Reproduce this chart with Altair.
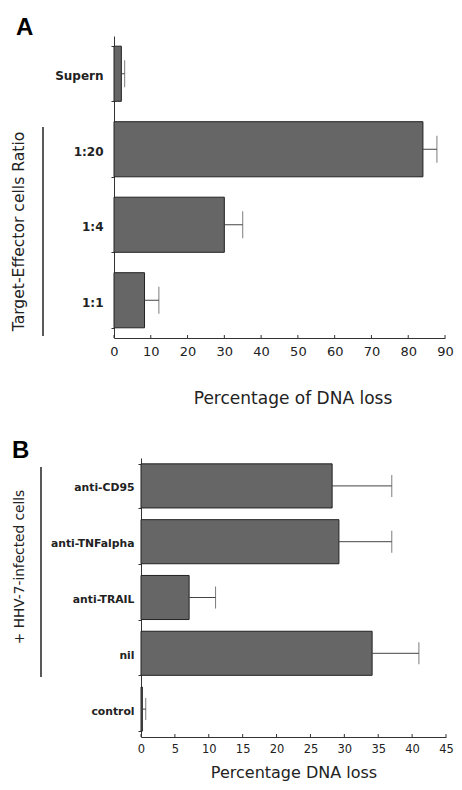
import altair as alt
import pandas as pd

# ---- data ----
cats_a = ["Supern", "1:20", "1:4", "1:1"]
vals_a = [2.0, 84.0, 30.0, 8.3]
hi_a = [2.9, 87.8, 35.0, 12.2]
ticks_a = [0, 10, 20, 30, 40, 50, 60, 70, 80, 90]

cats_b = ["anti-CD95", "anti-TNFalpha", "anti-TRAIL", "nil", "control"]
vals_b = [28.2, 29.2, 7.1, 34.1, 0.2]
hi_b = [37.0, 37.0, 11.0, 41.0, 0.7]
ticks_b = [0, 5, 10, 15, 20, 25, 30, 35, 40, 45]

FONT = "DejaVu Sans"


def one(text):
    return pd.DataFrame({"t": [text]})


def panel(cats, vals, his, ticks, xmax, W, x0, H, pin, cap, label_size, label_pad,
          tick_size, tick_pad, letter, letter_x, letter_y, ytitle, ytitle_size, ytitle_x, ytitle_y,
          br_x, br_y0, br_y1, xtitle, xtitle_size, xtitle_x, xtitle_y,
          anc_x0, anc_y0, anc_y1):
    df = pd.DataFrame({"cat": cats, "val": vals, "hi": his})
    xs = alt.Scale(domain=[0, xmax], nice=False, zero=True, range=[x0, W])
    ys = alt.Scale(domain=cats, paddingInner=pin, paddingOuter=pin / 2)

    ax_x = alt.Axis(values=ticks, ticks=False, grid=False, title=None,
                    labelFont=FONT, labelFontSize=tick_size, labelColor="#222222",
                    labelPadding=tick_pad, labelFlush=False, labelOverlap=False,
                    domainColor="#333333", domainWidth=1)
    ax_y = alt.Axis(title=None, tickBand="extent", tickSize=3, tickColor="#333333",
                    labelFont=FONT, labelFontSize=label_size, labelFontWeight="bold",
                    labelColor="#222222", labelPadding=label_pad, labelOffset=2,
                    domainColor="#333333", domainWidth=1, offset=-x0, grid=False)

    X = lambda f: alt.X(f, scale=xs, axis=ax_x)
    Y = alt.Y("cat:N", sort=cats, scale=ys, axis=ax_y)

    anchor = alt.Chart(one("a")).mark_rect(fill="white", opacity=0).encode(
        x=alt.value(anc_x0), x2=alt.value(W - 2), y=alt.value(anc_y0), y2=alt.value(anc_y1)
    )

    bars = alt.Chart(df).mark_bar(fill="#666666", stroke="#222222", strokeWidth=1).encode(
        x=X("val:Q"), y=Y
    )
    err = alt.Chart(df).mark_rule(color="#444444", strokeWidth=1).encode(
        x=X("val:Q"), x2="hi:Q", y=Y
    )
    caps = alt.Chart(df).mark_tick(orient="vertical", size=cap, thickness=1, color="#444444").encode(
        x=X("hi:Q"), y=Y
    )
    tdf = pd.DataFrame({"t": ticks})
    xticks = alt.Chart(tdf).mark_rule(color="#333333", strokeWidth=1).encode(
        x=X("t:Q"), y=alt.value(H - 3), y2=alt.value(H)
    )
    let = alt.Chart(one(letter)).mark_text(
        font="Liberation Sans", fontSize=24, fontWeight="bold", align="left",
        baseline="alphabetic", color="#000000"
    ).encode(text="t:N", x=alt.value(letter_x), y=alt.value(letter_y))
    yt = alt.Chart(one(ytitle)).mark_text(
        font=FONT, fontSize=ytitle_size, angle=270, align="center", baseline="middle",
        color="#222222"
    ).encode(text="t:N", x=alt.value(ytitle_x), y=alt.value(ytitle_y))
    br = alt.Chart(one("b")).mark_rule(color="#222222", strokeWidth=1.5).encode(
        x=alt.value(br_x), y=alt.value(br_y0), y2=alt.value(br_y1)
    )
    xt = alt.Chart(one(xtitle)).mark_text(
        font=FONT, fontSize=xtitle_size, align="center", baseline="alphabetic",
        color="#222222"
    ).encode(text="t:N", x=alt.value(xtitle_x), y=alt.value(xtitle_y))

    return alt.layer(anchor, bars, err, caps, xticks, let, yt, br, xt).properties(
        width=W, height=H
    )


# Panel A: plot origin at page (114, 36)
pa = panel(cats_a, vals_a, hi_a, ticks_a, 90, 331, 0, 302, 0.27, 27, 12, 8, 13, 7,
           "A", -98, -1, "Target-Effector cells Ratio", 15.6, -95.5, 195.5,
           -71, 91, 300, "Percentage of DNA loss", 17, 179, 368,
           -106, -28, 379)
# Panel B: group origin at page (114, 458); axis at x=141
pb = panel(cats_b, vals_b, hi_b, ticks_b, 45, 332, 27, 279, 0.21, 22, 10.8, 4, 11.5, 6,
           "B", -102, 0, "+ HHV-7-infected cells", 13.7, -94.5, 109,
           -73, 9, 219, "Percentage DNA loss", 16, 180, 320,
           -106, -33, 326)

chart = alt.vconcat(pa, pb, spacing=10).properties(padding=0).configure_view(stroke=None)

chart.save("out.html", embed_options={"renderer": "svg", "actions": False})
